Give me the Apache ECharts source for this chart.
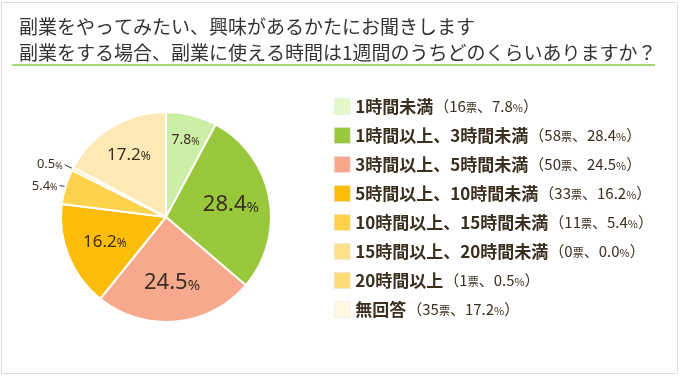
<!DOCTYPE html>
<html>
<head>
<meta charset="utf-8">
<script src="https://cdn.jsdelivr.net/npm/echarts@6/dist/echarts.min.js"></script>
<style>
  html, body { margin: 0; padding: 0; background: #fff; }
  #main { width: 680px; height: 376px; }
</style>
</head>
<body>
<div id="main"></div>
<script>
// 回答の選択肢
const categories = [
  '1時間未満',
  '1時間以上、3時間未満',
  '3時間以上、5時間未満',
  '5時間以上、10時間未満',
  '10時間以上、15時間未満',
  '15時間以上、20時間未満',
  '20時間以上',
  '無回答'
];
// 票数
const votes = [16, 58, 50, 33, 11, 0, 1, 35];
// 割合 (%)
const percents = ['7.8', '28.4', '24.5', '16.2', '5.4', '0.0', '0.5', '17.2'];

const colors = ['#cdeea6', '#9ac83c', '#f7a98d', '#fbbd0a', '#fdd24c', '#fde08a', '#fddc78', '#fde9b6'];
const legendColors = ['#e2f8c8', '#9ac83c', '#f7a88c', '#fbbc0a', '#fdd24a', '#fde08a', '#fddc78', '#fef7e2'];

const textColor = '#3b2f20';
const pieCenter = [166, 217];
const pieRadius = 105;

// label size by share
function labelSize(p) {
  if (p >= 20) return 22;
  if (p >= 10) return 17;
  if (p >= 7) return 14;
  return 13;
}

// how far from the center the inside label sits (fraction of radius)
function labelRadius(p) {
  if (p < 10) return 0.73;
  if (p < 17) return 0.6;
  if (p < 20) return 0.66;
  return 0.6;
}

const total = votes.reduce((a, b) => a + b, 0);
const midAngles = [];
let acc = 0;
votes.forEach(v => {
  midAngles.push((acc + v / 2) / total * Math.PI * 2);
  acc += v;
});

const pieData = categories.map((name, i) => {
  const p = parseFloat(percents[i]);
  const outside = p < 7;
  const size = labelSize(p);
  return {
    name: name,
    value: votes[i],
    itemStyle: { color: colors[i] },
    label: {
      show: votes[i] > 0,
      position: outside ? 'outside' : 'inside',
      distanceToLabelLine: 2,
      formatter: '{v|' + percents[i] + '}{u|%}',
      rich: {
        v: { fontSize: size, color: textColor, fontFamily: 'Noto Sans' },
        u: { fontSize: Math.round(size * 0.7), color: textColor, fontFamily: 'Noto Sans', padding: [Math.round(size * 0.25), 0, 0, 0] }
      }
    },
    labelLine: {
      show: outside,
      length: p < 1 ? 9 : 3,
      length2: p < 1 ? 0 : 3,
      lineStyle: { color: '#333', width: 1 }
    }
  };
});

const chart = echarts.init(document.getElementById('main'));

const option = {
  animation: false,
  backgroundColor: '#fff',
  title: {
    text: '副業をやってみたい、興味があるかたにお聞きします\n副業をする場合、副業に使える時間は1週間のうちどのくらいありますか？',
    left: 14,
    top: 9,
    textStyle: {
      fontFamily: 'Noto Sans CJK JP',
      fontSize: 19,
      fontWeight: 'normal',
      color: '#333',
      lineHeight: 26
    }
  },
  graphic: [
    {
      type: 'rect',
      shape: { x: 1.5, y: 2.5, width: 676, height: 371 },
      style: { fill: 'none', stroke: '#dddddd', lineWidth: 1 },
      silent: true
    },
    {
      type: 'line',
      shape: { x1: 12, y1: 65, x2: 655, y2: 65 },
      style: { stroke: '#a9d470', lineWidth: 2 },
      silent: true
    }
  ],
  legend: {
    orient: 'vertical',
    left: 329,
    top: 93,
    itemWidth: 16,
    itemHeight: 16,
    itemGap: 12,
    icon: 'rect',
    selectedMode: false,
    data: categories.map((name, i) => ({
      name: name,
      itemStyle: { color: legendColors[i], borderColor: '#e4e4e4', borderWidth: 0.5 }
    })),
    formatter: function (name) {
      const i = categories.indexOf(name);
      return '{n|' + name + '}{p|（' + votes[i] + '}{s|票}{p|、' + percents[i] + '}{s|%}{p|）}';
    },
    textStyle: {
      rich: {
        n: { fontFamily: 'Noto Sans CJK JP', fontSize: 17, fontWeight: 'bold', color: textColor, lineHeight: 17, padding: [0, 1, 0, 0] },
        p: { fontFamily: 'Noto Sans CJK JP', fontSize: 15, color: textColor, lineHeight: 17 },
        s: { fontFamily: 'Noto Sans CJK JP', fontSize: 11, color: textColor, lineHeight: 17, padding: [3, 0, 0, 0] }
      }
    }
  },
  series: [
    {
      type: 'pie',
      center: pieCenter,
      radius: pieRadius,
      startAngle: 90,
      clockwise: true,
      avoidLabelOverlap: false,
      emphasis: { disabled: true },
      itemStyle: { borderColor: '#fff', borderWidth: 2 },
      data: pieData,
      // push the inside labels outward along each slice's middle
      labelLayout: function (params) {
        const i = params.dataIndex;
        const p = parseFloat(percents[i]);
        if (p < 7) return {};
        const extra = (labelRadius(p) - 0.5) * pieRadius;
        const a = midAngles[i];
        return { dx: extra * Math.sin(a), dy: -extra * Math.cos(a) };
      }
    }
  ]
};

chart.setOption(option);
</script>
</body>
</html>
